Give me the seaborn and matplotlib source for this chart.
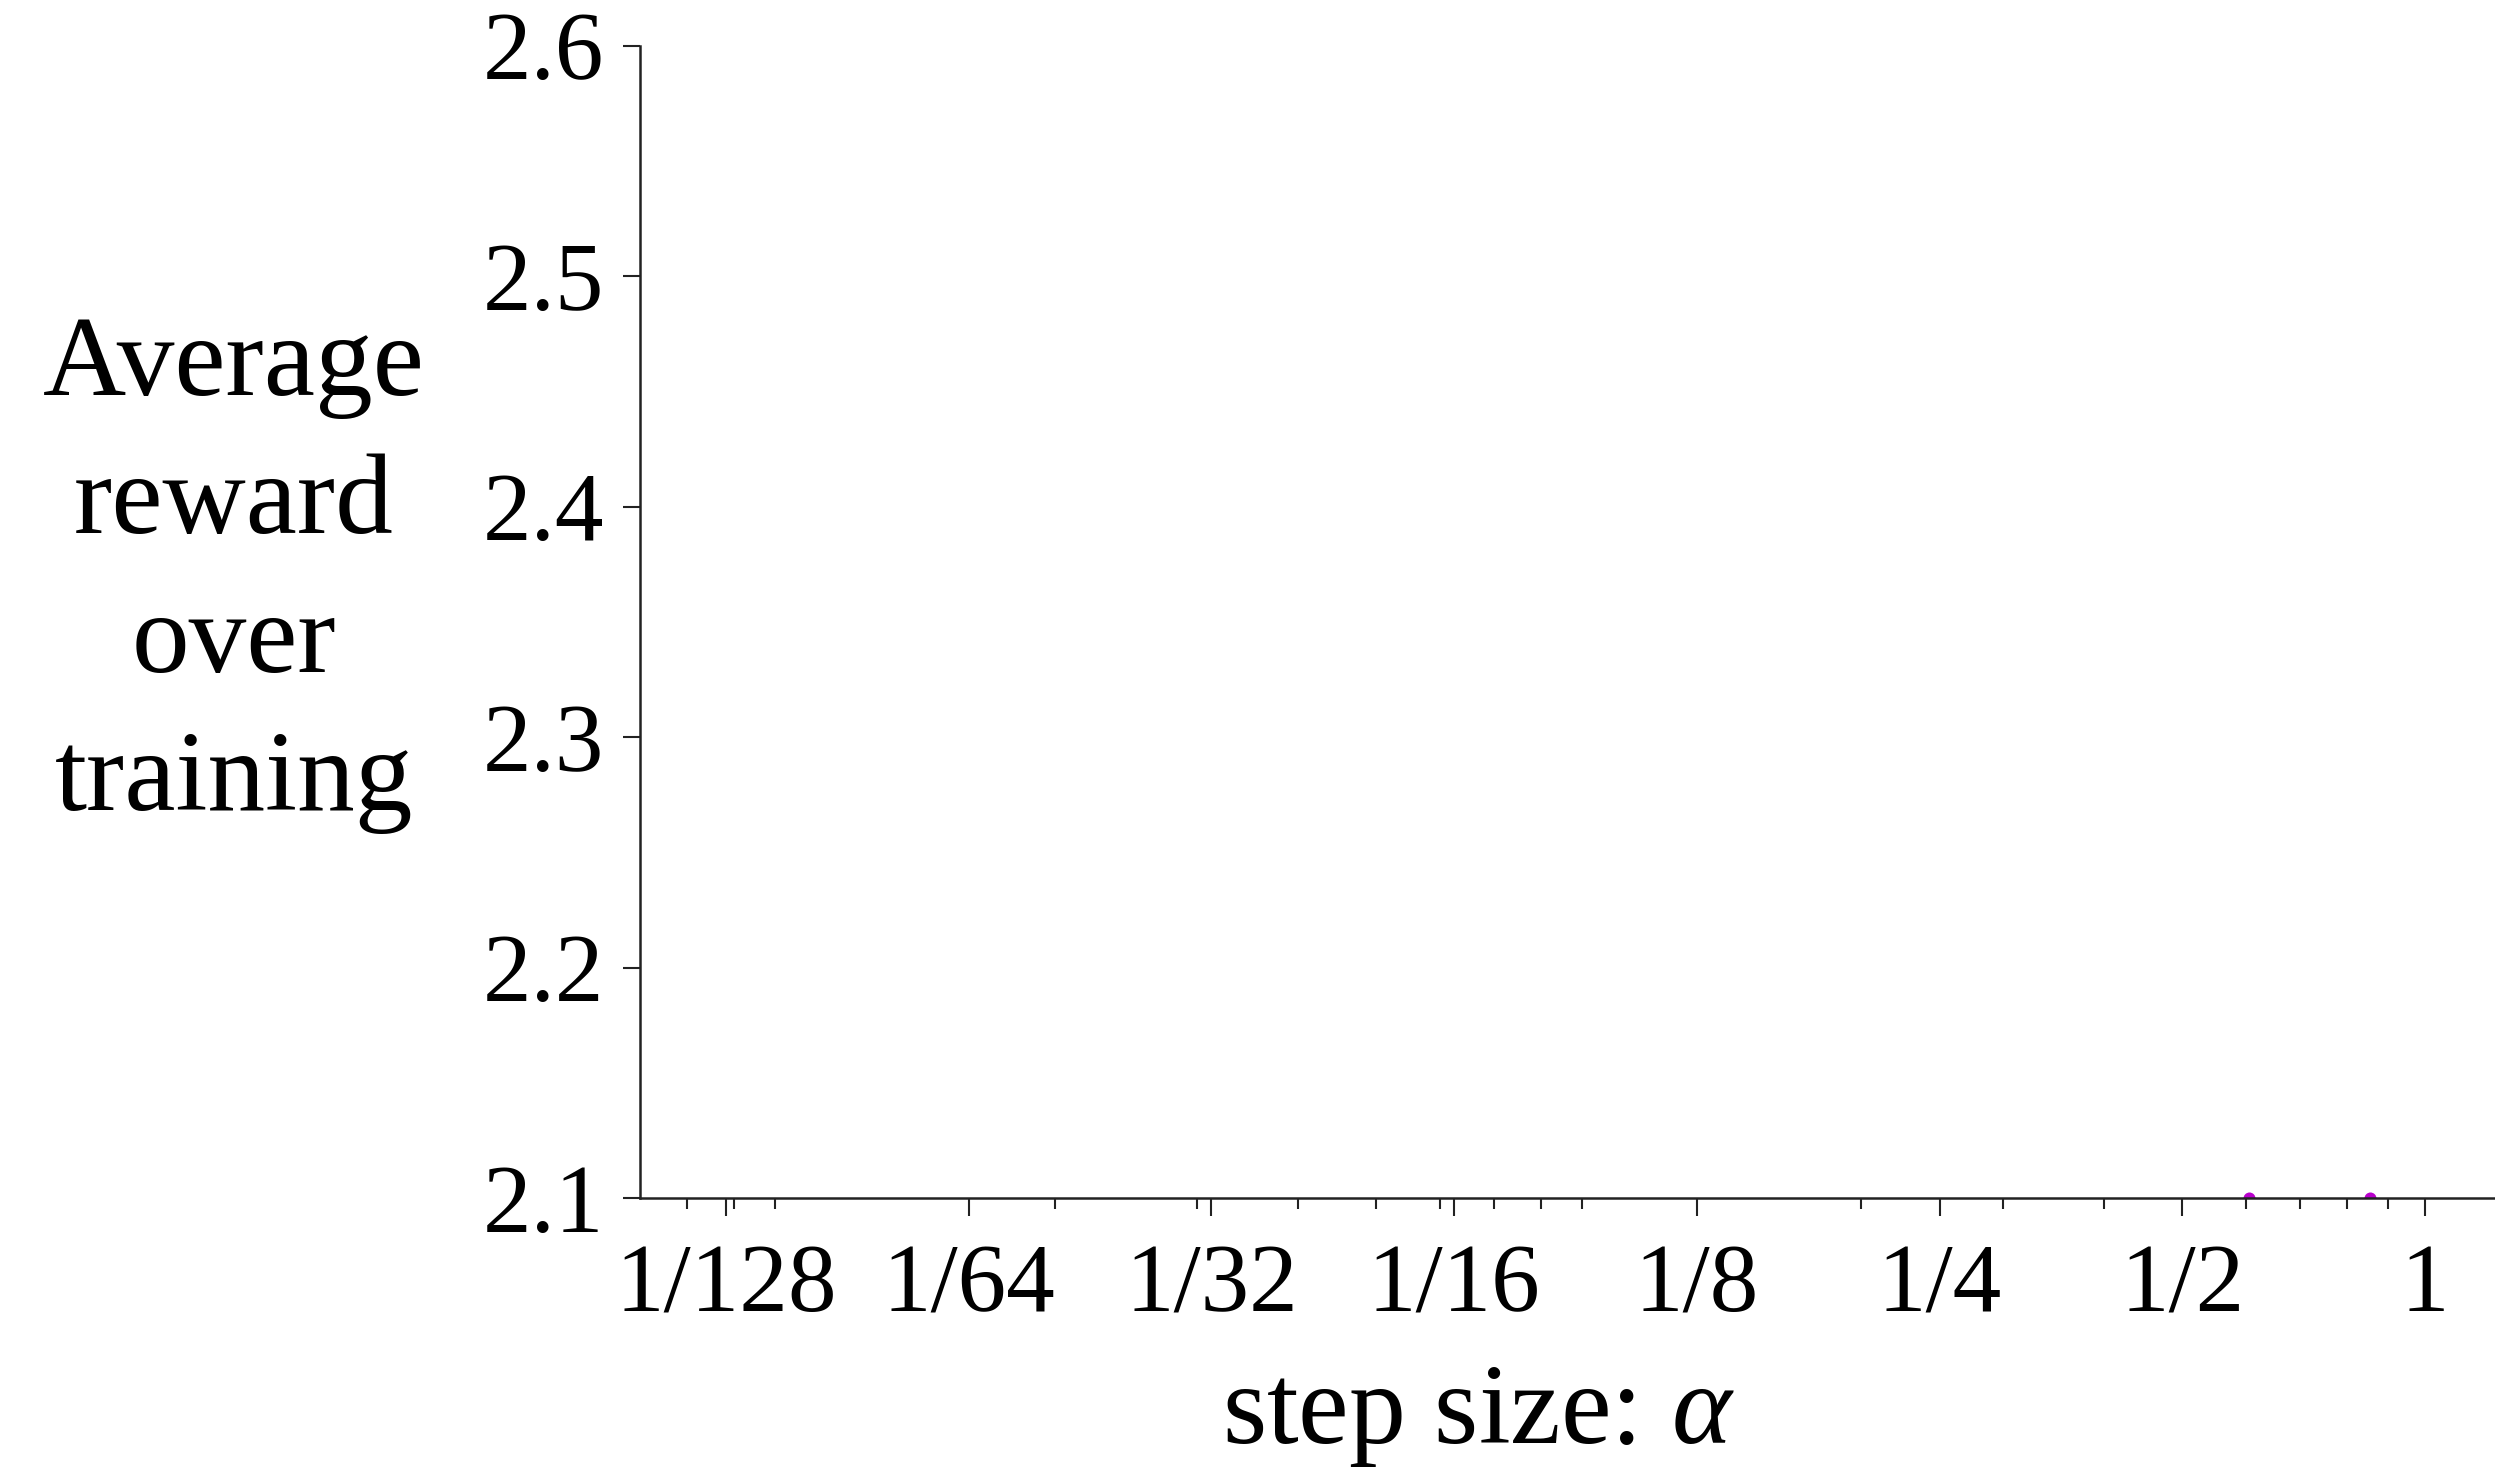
import matplotlib
matplotlib.use("Agg")
import matplotlib.pyplot as plt
import seaborn as sns
import pandas as pd
from matplotlib.ticker import FixedLocator, FixedFormatter, LogLocator, NullFormatter

# Step-size grid and labels
alpha_ticks = [1/128, 1/64, 1/32, 1/16, 1/8, 1/4, 1/2, 1]
alpha_labels = ["1/128", "1/64", "1/32", "1/16", "1/8", "1/4", "1/2", "1"]
reward_ticks = [2.1, 2.2, 2.3, 2.4, 2.5, 2.6]
reward_labels = ["2.1", "2.2", "2.3", "2.4", "2.5", "2.6"]

# The only visible part of the curve: two points touching the bottom of the range
curve_alpha = [0.605, 0.855]
curve_reward = [2.1, 2.1]

sns.set_theme(style="ticks")
plt.rcParams["font.family"] = ["Liberation Serif", "DejaVu Serif"]
plt.rcParams["mathtext.fontset"] = "custom"
plt.rcParams["mathtext.rm"] = "Liberation Serif"
plt.rcParams["mathtext.it"] = "Liberation Serif:italic"

W, H = 2495, 1481
fig = plt.figure(figsize=(W / 100, H / 100), dpi=100)
fig.patch.set_facecolor("white")
left, right, top, bottom = 640, 2495, 45.7, 1198
ax = fig.add_axes([left / W, 1 - bottom / H, (right - left) / W, (bottom - top) / H])
ax.set_facecolor("white")

df = pd.DataFrame({"alpha": curve_alpha, "reward": curve_reward})
sns.scatterplot(data=df, x="alpha", y="reward", ax=ax, color="#b800cc",
                s=75, linewidth=0, legend=False)

ax.set_xscale("log", base=2)
ax.set_xlim(2 ** -7.354, 2 ** 0.288)
ax.set_ylim(2.1, 2.6)

ax.xaxis.set_major_locator(FixedLocator(alpha_ticks))
ax.xaxis.set_major_formatter(FixedFormatter(alpha_labels))
ax.xaxis.set_minor_locator(LogLocator(base=10, subs=[2, 3, 4, 5, 6, 7, 8, 9]))
ax.xaxis.set_minor_formatter(NullFormatter())
ax.yaxis.set_major_locator(FixedLocator(reward_ticks))
ax.yaxis.set_major_formatter(FixedFormatter(reward_labels))
ax.yaxis.set_minor_locator(FixedLocator([]))

for s in ["top", "right"]:
    ax.spines[s].set_visible(False)
for s in ["left", "bottom"]:
    ax.spines[s].set_linewidth(1.8)
    ax.spines[s].set_color("#222222")

ax.tick_params(axis="x", which="major", direction="out", length=13, width=1.5,
               color="#222222", labelsize=70, pad=20, labelcolor="black")
ax.tick_params(axis="x", which="minor", direction="out", length=8, width=1.5,
               color="#222222")
ax.tick_params(axis="y", which="major", direction="out", length=12, width=1.5,
               color="#222222", labelsize=70, pad=14, labelcolor="black")

ax.set_xlabel(r"step size: $\alpha$", fontsize=82, color="black")
ax.xaxis.set_label_coords((1478 - left) / (right - left), -0.145)
ax.set_ylabel("")

fig.text(234 / W, 1 - 810 / H, "Average\nreward\nover\ntraining",
         ha="center", va="baseline", multialignment="center",
         fontsize=83, linespacing=1.44, color="black")

fig.savefig("out.png", dpi=100, facecolor="white")
